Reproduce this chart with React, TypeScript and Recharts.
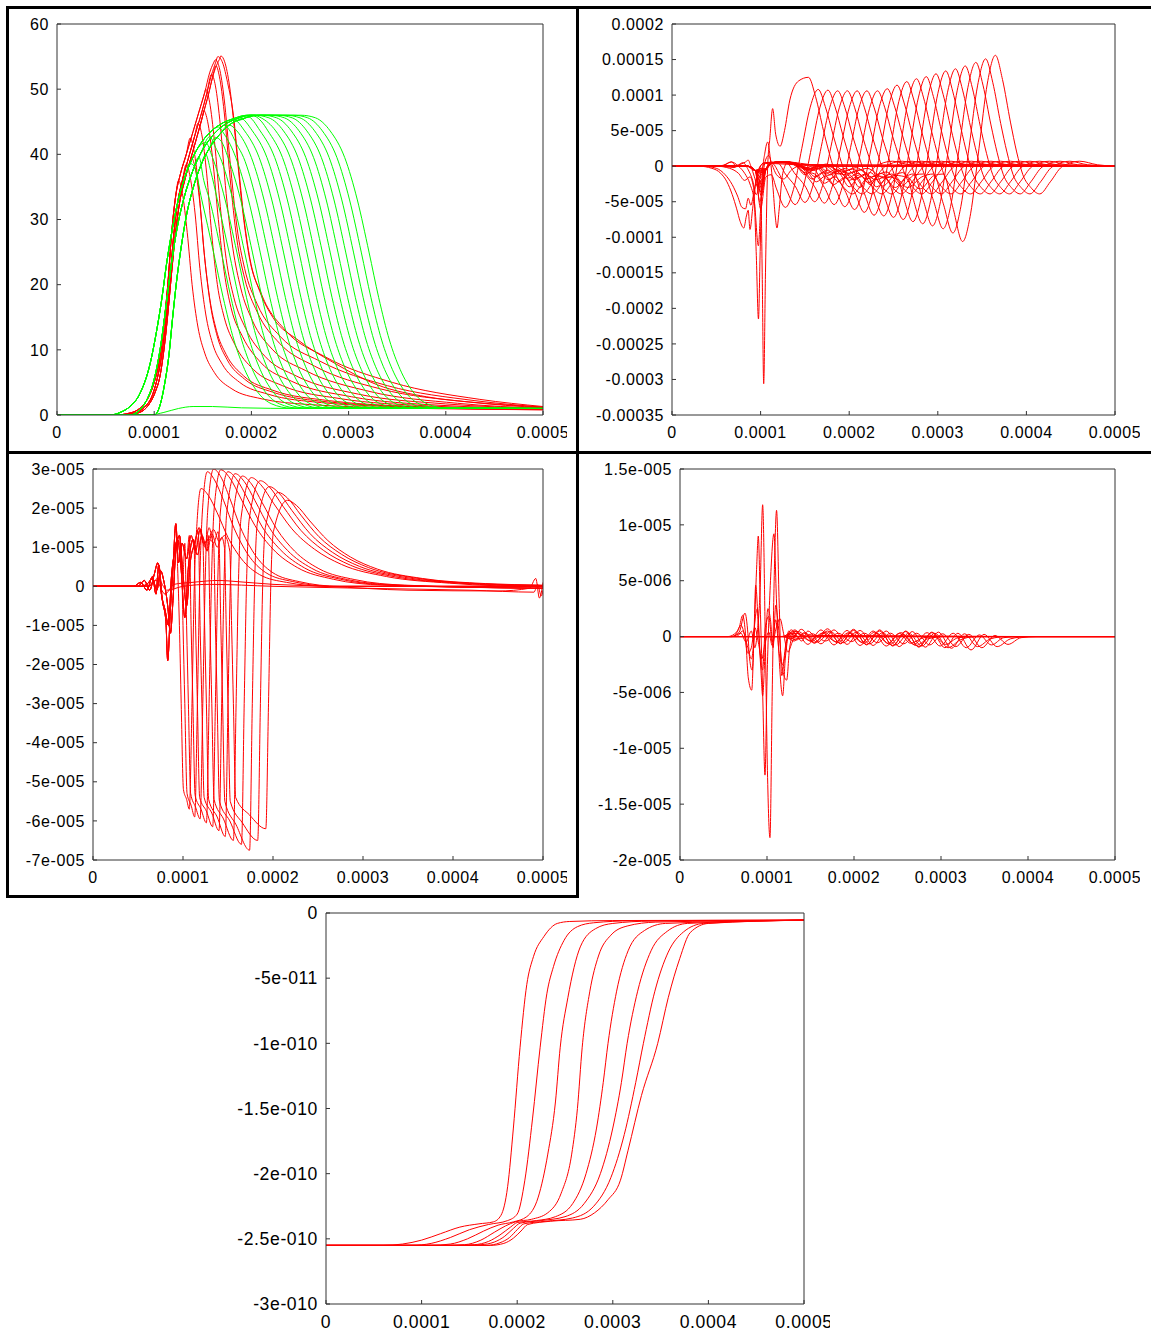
import React from "react";
import { LineChart, Line, XAxis, YAxis } from "recharts";

// ── Types ─────────────────────────────────────────────────────────────────────

type Pt = [number, number]; // [time in microseconds, value in panel units]
type Curve = { pts: Pt[]; color: string };

const RED = "#ff0000";
const GREEN = "#00ff00";

// ── Shared x axis (stored in µs, labelled in seconds) ─────────────────────────

const xTicks = [0, 100, 200, 300, 400, 500];
const xTickLabels = ["0", "0.0001", "0.0002", "0.0003", "0.0004", "0.0005"];

// ── Panel 1 (top left): red and green pulses ──────────────────────────────────

const p1Ticks = [0, 10, 20, 30, 40, 50, 60];
const p1Labels = ["0", "10", "20", "30", "40", "50", "60"];

// three observed variants of the red rising edge
const p1RedRises: Pt[][] = [
  [[0,0],[60,0],[75,0.3],[85,1],[95,3],[100,5],[106,9],[110,14],[114,20],[118,28],[122,33.5],[127,37],[133,40],[140,43.5],[147,47],[152,49.5],[157,52.5],[161,54],[164,54.8]],
  [[0,0],[65,0],[80,0.3],[90,1.2],[98,3],[103,5.5],[108,9.5],[112,14.5],[116,20.5],[120,27.5],[124,32.5],[129,36],[135,39.3],[142,43],[149,46.5],[154,49.3],[159,52.2],[163,54],[166,54.9]],
  [[0,0],[70,0],[85,0.4],[94,1.5],[101,3.5],[106,6],[110,10],[114,15.5],[118,22],[122,28],[126,32.5],[131,35.8],[137,39],[144,42.7],[150,46],[156,49.3],[160,51.8],[164,53.6],[168,54.9]],
];

// each red curve from its peak onwards
const p1RedFalls: Pt[][] = [
  [[125,36],[129,34],[134,28],[139,20],[145,13.5],[152,9.5],[162,6.5],[180,4],[210,2.5],[260,1.6],[350,1.1],[500,0.8]],
  [[133,38.5],[137,36.5],[142,31],[147,22.5],[153,15.5],[160,11],[170,7.8],[188,5],[217,3.2],[272,1.9],[362,1.2],[500,0.8]],
  [[138,39.5],[142,38],[147,32.5],[152,24],[158,16.8],[165,12],[175,8.5],[193,5.5],[222,3.5],[279,2],[369,1.25],[500,0.85]],
  [[137,42.5],[141,40.5],[146,34.5],[151,25.5],[157,18],[164,13],[174,9.3],[192,6],[222,3.8],[280,2.2],[370,1.3],[500,0.9]],
  [[145,44.8],[149,43],[154,37],[159,28],[165,20],[172,15],[183,10.8],[202,7],[232,4.5],[292,2.5],[382,1.4],[500,0.9]],
  [[151,46.7],[155,45],[160,39.5],[166,30],[172,22],[179,16.5],[191,12],[210,8],[241,5.2],[303,2.8],[393,1.5],[500,1]],
  [[153,50],[157,48],[162,42],[168,32],[174,24],[182,18],[194,13.3],[214,9],[246,6],[310,3.2],[400,1.7],[500,1]],
  [[159,52.3],[163,50.5],[168,44.5],[174,34],[181,25.5],[189,19.5],[201,14.5],[222,10],[256,6.8],[322,3.6],[412,1.8],[500,1]],
  [[163.5,53.6],[167,52],[172,46.5],[178,36.5],[185,27],[193,21],[206,15.8],[229,11],[265,7.5],[333,4],[423,2],[500,1.1]],
  [[163,54.5],[167,53.3],[172,48.5],[178,39],[185,29],[193,22.5],[206,17],[230,12],[270,8.3],[340,4.5],[430,2.2],[500,1.2]],
  [[165.5,55],[170.5,54],[175.5,51],[181.5,46],[186.5,38.5],[192.5,30],[198.5,24],[208.5,19],[222,15],[248,11.5],[285,8],[330,4.6],[380,2.8],[440,1.8],[500,1.2]],
  [[168.5,55.1],[172.5,54.2],[177.5,50.5],[183.5,42.5],[190.5,32],[197.5,24.5],[210.5,18.5],[235,13],[275,9],[345,5],[435,2.4],[500,1.3]],
];

// three observed variants of the green rising edge
const p1GreenRises: Pt[][] = [
  [[0,0],[55,0],[65,0.4],[75,1.3],[85,3.2],[96,8],[102,12.5],[108,18],[113,23.5],[118,28],[124,32.5],[130,35.8],[137,38.6],[145,41],[155,43],[168,44.6],[182,45.5],[196,46]],
  [[0,0],[75,0],[84,0.6],[92,2.2],[100,5.5],[106,10],[112,16.5],[118,23.5],[124,29],[131,33.5],[139,37.2],[148,40.2],[158,42.5],[170,44.3],[184,45.4],[200,46]],
  [[0,0],[100,0],[106,1.5],[111,5],[115,9],[119,15],[123,20.5],[128,26],[133,30.5],[140,34.8],[148,38.3],[157,41],[167,43],[180,44.8],[194,45.6],[210,46]],
];

// each green curve from where it leaves the rising edge
const p1GreenFalls: Pt[][] = [
  [[141,38.2],[149,33],[161,25],[171,18],[182,11.5],[193,7],[206,3.6],[221,1.7],[241,1.05],[500,1]],
  [[146,39.6],[151,36],[157,33],[169,25],[179,18],[190,11.5],[201,7],[214,3.6],[229,1.7],[249,1.05],[500,1]],
  [[153,40],[158,37.5],[165,33],[177,25],[187,18],[198,11.5],[209,7],[222,3.6],[237,1.7],[257,1.05],[500,1]],
  [[153,41.8],[160,39.5],[173,33],[185,25],[195,18],[206,11.5],[217,7],[230,3.6],[245,1.7],[265,1.05],[500,1]],
  [[157,42.7],[163,41.1],[168,39.5],[181,33],[193,25],[203,18],[214,11.5],[225,7],[238,3.6],[253,1.7],[273,1.05],[500,1]],
  [[163,42.6],[169,42],[176,39.5],[189,33],[201,25],[211,18],[222,11.5],[233,7],[246,3.6],[261,1.7],[281,1.05],[500,1]],
  [[166,44.2],[172,43.1],[184,39.5],[197,33],[209,25],[219,18],[230,11.5],[241,7],[254,3.6],[269,1.7],[289,1.05],[500,1]],
  [[172,44.5],[177,43.8],[185,41.5],[192,39.5],[205,33],[217,25],[227,18],[238,11.5],[249,7],[262,3.6],[277,1.7],[297,1.05],[500,1]],
  [[177,44.5],[185,43.6],[200,39.5],[213,33],[225,25],[235,18],[246,11.5],[257,7],[270,3.6],[285,1.7],[305,1.05],[500,1]],
  [[182,45.3],[193,43.6],[208,39.5],[221,33],[233,25],[243,18],[254,11.5],[265,7],[278,3.6],[293,1.7],[313,1.05],[500,1]],
  [[188,45.6],[201,43.6],[216,39.5],[229,33],[241,25],[251,18],[262,11.5],[273,7],[286,3.6],[301,1.7],[321,1.05],[500,1]],
  [[196,45.8],[209,43.6],[224,39.5],[237,33],[249,25],[259,18],[270,11.5],[281,7],[294,3.6],[309,1.7],[329,1.05],[500,1]],
  [[200,46],[210,45.1],[217,43.6],[232,39.5],[245,33],[257,25],[267,18],[278,11.5],[289,7],[302,3.6],[317,1.7],[337,1.05],[500,1]],
  [[202,46],[210,45.6],[225,43.6],[240,39.5],[253,33],[265,25],[275,18],[286,11.5],[297,7],[310,3.6],[325,1.7],[345,1.05],[500,1]],
  [[203,46],[218,45.6],[233,43.6],[248,39.5],[261,33],[273,25],[283,18],[294,11.5],[305,7],[318,3.6],[333,1.7],[353,1.05],[500,1]],
  [[211,46],[226,45.6],[241,43.6],[256,39.5],[269,33],[281,25],[291,18],[302,11.5],[313,7],[326,3.6],[341,1.7],[361,1.05],[500,1]],
  [[219,46],[234,45.6],[249,43.6],[264,39.5],[277,33],[289,25],[299,18],[310,11.5],[321,7],[334,3.6],[349,1.7],[369,1.05],[500,1]],
  [[227,46],[242,45.6],[257,43.6],[272,39.5],[285,33],[297,25],[307,18],[318,11.5],[329,7],[342,3.6],[357,1.7],[377,1.05],[500,1]],
  [[235,46],[250,45.6],[265,43.6],[280,39.5],[293,33],[305,25],[315,18],[326,11.5],[337,7],[350,3.6],[365,1.7],[385,1.05],[500,1]],
  [[243,46],[258,45.6],[273,43.6],[288,39.5],[301,33],[313,25],[323,18],[334,11.5],[345,7],[358,3.6],[373,1.7],[393,1.05],[500,1]],
  [[251,46],[266,45.6],[281,43.6],[296,39.5],[309,33],[321,25],[331,18],[342,11.5],[353,7],[366,3.6],[381,1.7],[401,1.05],[500,1]],
];

const p1GreenLow: Pt[] = [[0,0],[95,0],[110,0.4],[125,1],[140,1.3],[160,1.3],[190,1.1],[250,1],[500,1]];

// ── Panel 2 (top right), values in 1e-5 ───────────────────────────────────────

const p2Ticks = [20, 15, 10, 5, 0, -5, -10, -15, -20, -25, -30, -35];
const p2Labels = ["0.0002", "0.00015", "0.0001", "5e-005", "0", "-5e-005", "-0.0001", "-0.00015", "-0.0002", "-0.00025", "-0.0003", "-0.00035"];

const p2Early: Pt[][] = [
  [[0,0],[30,0],[45,-0.3],[55,-1],[62,-2.2],[68,-4],[73,-6],[77,-7.8],[81,-8.7],[84,-7],[86,-6.2],[88,-8.9],[91,-6],[95,-2],[99,-0.3],[104,0.5],[115,0.5],[140,0.3],[200,0],[500,0]],
  [[0,0],[35,0],[50,-0.3],[60,-1.2],[68,-2.6],[74,-4.2],[79,-5.8],[83,-6],[86,-4.5],[89,-5.5],[92,-4],[96,-1.2],[102,0.3],[110,0.4],[140,0.2],[500,0]],
  [[0,0],[50,0],[65,-0.3],[75,-1],[82,-2],[88,-1.5],[92,-3],[95,-12],[97.6,-21.5],[99.5,-12],[101.5,-2],[105,2],[108,3.4],[111,1],[114,-3],[116.5,-7],[118.5,-8.7],[121,-6],[125,-1],[131,0.6],[145,0.4],[175,0],[500,0]],
  [[0,0],[55,0],[70,-0.2],[80,0.5],[86,-0.5],[91,-2],[95,-4],[98,-3],[100,-2],[101.8,-15],[103.5,-30.6],[105.5,-15],[108,0],[110.5,4],[113.6,8.1],[117,4.5],[122,2.8],[127,5],[133,9.3],[143,12],[154,12.5],[162,9.8],[171,5],[178,1.6],[185,-1.2],[194,-3],[204,-3.9],[216,-2.2],[229,-0.1],[249,0.7],[269,0.2],[500,0]],
  [[0,0],[55,0],[67,0.6],[75,0],[82,-1],[88,-2.5],[93,-5],[97.5,-11.2],[100,-6],[103,-1],[106,1],[109,1.5],[113,0.2],[118,-1.2],[126,-1.8],[135,-0.5],[150,0.2],[500,0]],
  [[0,0],[50,0],[60,0.2],[67,0.6],[72,0.1],[78,0.3],[83,0.6],[86,0.85],[89,0],[93,-1.5],[97,-3],[101,-0.5],[106,0.5],[120,0.6],[140,0.3],[160,0],[500,0]],
];

const p2Braid: Pt[][] = [
  [[0,0],[85,0],[94,-0.6],[100,-6],[106,-1.5],[112,-1.2],[118,-3.2],[128,-5.8],[137,-3.3],[146.5,2.5],[156,8.3],[165,10.8],[173,8.4],[182,4.3],[189,1.4],[196,-1.2],[205,-3],[215,-3.9],[227,-2.2],[240,-0.1],[260,0.7],[280,0.2],[500,0]],
  [[0,0],[85,0],[94,-0.6],[99,-5],[106,-0.6],[113,0.4],[120,-0.8],[128,-3],[139,-5.4],[148,-3],[157.5,2.65],[167,8.3],[176,10.7],[184,8.35],[193,4.3],[200,1.4],[207,-1.2],[216,-3],[226,-3.9],[238,-2.2],[251,-0.1],[271,0.7],[291,0.2],[500,0]],
  [[0,0],[85,0],[94,-0.6],[101,-4.2],[106,-0.5],[113,0.5],[120,0.4],[128,-1.1],[139,-2.8],[150,-5.1],[159,-2.75],[168.5,2.75],[178,8.25],[187,10.6],[195,8.3],[204,4.2],[211,1.4],[218,-1.2],[227,-3],[237,-3.9],[249,-2.2],[262,-0.1],[282,0.7],[302,0.2],[500,0]],
  [[0,0],[85,0],[94,-0.6],[100,-3.6],[106,-0.4],[113,0.5],[128,0.6],[139,-1.1],[150,-2.75],[161,-5],[170,-2.7],[179.5,2.8],[189,8.3],[198,10.6],[206,8.3],[215,4.2],[222,1.4],[229,-1.2],[238,-3],[248,-3.9],[260,-2.2],[273,-0.1],[293,0.7],[313,0.2],[500,0]],
  [[0,0],[85,0],[94,-0.6],[99,-3],[106,-0.4],[113,0.5],[128,0.6],[140,0],[150,-1.1],[161,-2.9],[172,-5.2],[181,-2.8],[190.5,2.7],[200,8.2],[209,10.6],[217,8.3],[226,4.2],[233,1.4],[240,-1.2],[249,-3],[259,-3.9],[271,-2.2],[284,-0.1],[304,0.7],[324,0.2],[500,0]],
  [[0,0],[85,0],[94,-0.6],[101,-2.6],[106,-0.4],[113,0.5],[128,0.6],[145,0.2],[153,-0.8],[161,-1.1],[172,-3],[183,-5.4],[192,-3],[201.5,2.6],[211,8.2],[220,10.6],[228,8.3],[237,4.2],[244,1.4],[251,-1.2],[260,-3],[270,-3.9],[282,-2.2],[295,-0.1],[315,0.7],[335,0.2],[500,0]],
  [[0,0],[85,0],[94,-0.6],[100,-2.2],[106,-0.4],[113,0.5],[128,0.6],[140,0.3],[152,-0.6],[163,-2.2],[173,-1.4],[184,-3.1],[195,-5.7],[204,-3.25],[213.5,2.45],[223,8.15],[232,10.6],[240,8.3],[249,4.2],[256,1.4],[263,-1.2],[272,-3],[282,-3.9],[294,-2.2],[307,-0.1],[327,0.7],[347,0.2],[500,0]],
  [[0,0],[85,0],[94,-0.6],[102,-1.9],[106,-0.4],[113,0.5],[128,0.6],[138,0.4],[150,-1.2],[160,-0.5],[172,-2.4],[184,-1.5],[195,-3.4],[206,-6.1],[215,-3.55],[224.5,2.4],[234,8.35],[243,10.9],[251,8.5],[260,4.4],[267,1.4],[274,-1.2],[283,-3],[293,-3.9],[305,-2.2],[318,-0.1],[338,0.7],[358,0.2],[500,0]],
  [[0,0],[85,0],[94,-0.6],[100,-1.6],[106,-0.4],[113,0.5],[128,0.6],[136,0.3],[148,-0.4],[158,-1.8],[170,-0.9],[182,-2.6],[195,-1.6],[206,-3.6],[217,-6.5],[226,-3.8],[235.5,2.45],[245,8.7],[254,11.4],[262,8.9],[271,4.6],[278,1.5],[285,-1.2],[294,-3],[304,-3.9],[316,-2.2],[329,-0.1],[349,0.7],[369,0.2],[500,0]],
  [[0,0],[85,0],[94,-0.6],[99,-1.4],[106,-0.4],[113,0.5],[128,0.6],[140,0.2],[152,-1],[164,-0.3],[176,-1.9],[188,-1],[200,-2.9],[210,-1.7],[217,-3.8],[228,-6.9],[237,-4.1],[246.5,2.5],[256,9.1],[265,11.9],[273,9.3],[282,4.8],[289,1.55],[296,-1.2],[305,-3],[315,-3.9],[327,-2.2],[340,-0.1],[360,0.7],[380,0.2],[500,0]],
  [[0,0],[85,0],[94,-0.6],[101,-1.2],[106,-0.4],[113,0.5],[128,0.6],[138,0.5],[150,-0.2],[162,-1.5],[175,-0.6],[188,-2.2],[200,-1.2],[212,-3],[222,-1.6],[228,-3.85],[239,-7],[248,-4.1],[257.5,2.65],[267,9.4],[276,12.3],[284,9.6],[293,4.9],[300,1.6],[307,-1.2],[316,-3],[326,-3.9],[338,-2.2],[351,-0.1],[371,0.7],[391,0.2],[500,0]],
  [[0,0],[85,0],[94,-0.6],[100,-1],[106,-0.4],[113,0.5],[128,0.6],[140,0.3],[152,-0.5],[164,0.1],[176,-1.3],[188,-0.6],[200,-2],[212,-1.2],[224,-2.6],[232,-1.5],[239,-4],[250,-7.2],[259,-4.2],[268.5,2.7],[278,9.6],[287,12.6],[295,9.8],[304,5],[311,1.6],[318,-1.2],[327,-3],[337,-3.9],[349,-2.2],[362,-0.1],[382,0.7],[402,0.2],[500,0]],
  [[0,0],[85,0],[94,-0.6],[102,-0.9],[106,-0.4],[113,0.5],[128,0.6],[140,0.3],[150,-0.3],[162,0.2],[174,-1],[186,-0.4],[198,-1.7],[210,-1],[222,-2.3],[234,-1.4],[244,-2],[250,-4.1],[261,-7.5],[270,-4.4],[279.5,2.75],[289,9.9],[298,13],[306,10.1],[315,5.2],[322,1.7],[329,-1.2],[338,-3],[348,-3.9],[360,-2.2],[373,-0.1],[393,0.7],[413,0.2],[500,0]],
  [[0,0],[85,0],[94,-0.6],[100,-0.8],[106,-0.4],[113,0.5],[128,0.6],[140,0.3],[153,-0.6],[166,0],[179,-1.2],[192,-0.5],[205,-1.9],[218,-1.1],[231,-2.9],[244,-1.5],[255,-1.9],[261,-4.3],[272,-7.8],[281,-4.6],[290.5,2.8],[300,10.2],[309,13.4],[317,10.45],[326,5.4],[333,1.7],[340,-1.2],[349,-3],[359,-3.9],[371,-2.2],[384,-0.1],[404,0.7],[424,0.2],[500,0]],
  [[0,0],[85,0],[94,-0.6],[101,-0.7],[106,-0.4],[113,0.5],[128,0.6],[140,0.3],[154,-0.4],[168,0.2],[182,-0.9],[196,-0.3],[210,-1.6],[224,-0.9],[238,-2.8],[252,-1.3],[266,-1.6],[272,-4.5],[283,-8.1],[292,-4.8],[301.5,2.8],[311,10.4],[320,13.7],[328,10.7],[337,5.5],[344,1.8],[351,-1.2],[360,-3],[370,-3.9],[382,-2.2],[395,-0.1],[415,0.7],[435,0.2],[500,0]],
  [[0,0],[85,0],[94,-0.6],[100,-0.6],[106,-0.4],[113,0.5],[128,0.6],[140,0.3],[156,-0.5],[172,0.1],[188,-1.1],[204,-0.4],[220,-1.8],[236,-1],[252,-3],[265,-1.4],[272,-1.1],[283,-4.6],[294,-8.4],[303,-5],[312.5,2.85],[322,10.7],[331,14.1],[339,11],[348,5.6],[355,1.8],[362,-1.2],[371,-3],[381,-3.9],[393,-2.2],[406,-0.1],[426,0.7],[446,0.2],[500,0]],
  [[0,0],[85,0],[94,-0.6],[102,-0.5],[106,-0.4],[113,0.5],[128,0.6],[140,0.3],[157,-0.3],[174,0.3],[191,-0.8],[208,-0.2],[225,-1.5],[242,-0.8],[259,-2.8],[274,-1.2],[284,-1.1],[295,-4.8],[306,-8.8],[315,-5.3],[324.5,2.9],[334,11.1],[343,14.6],[351,11.4],[360,5.8],[367,1.9],[374,-1.2],[383,-3],[393,-3.9],[405,-2.2],[418,-0.1],[438,0.7],[458,0.2],[500,0]],
  [[0,0],[85,0],[94,-0.6],[100,-0.4],[106,-0.4],[113,0.5],[128,0.6],[140,0.3],[158,-0.6],[176,0],[194,-1.2],[212,-0.5],[230,-1.9],[248,-1.1],[266,-3],[282,-1.5],[295,-1.1],[306,-5.2],[317,-9.4],[326,-5.7],[335.5,2.85],[345,11.4],[354,15.1],[362,11.8],[371,6],[378,2],[385,-1.2],[394,-3],[404,-3.9],[416,-2.2],[429,-0.1],[449,0.7],[469,0.2],[500,0]],
  [[0,0],[85,0],[94,-0.6],[101,-0.3],[106,-0.4],[113,0.5],[128,0.6],[140,0.3],[160,-0.4],[180,0.2],[200,-1],[220,-0.3],[240,-1.7],[260,-0.9],[280,-3.2],[296,-1.3],[306,-1.1],[317,-5.8],[328,-10.6],[337,-6.7],[346.5,2.5],[356,11.7],[365,15.6],[373,12.2],[382,6.2],[389,2],[396,-1.2],[405,-3],[415,-3.9],[427,-2.2],[440,-0.1],[460,0.7],[480,0.2],[500,0]],
];

// ── Panel 3 (middle left), values in 1e-5 ─────────────────────────────────────

const p3Ticks = [3, 2, 1, 0, -1, -2, -3, -4, -5, -6, -7];
const p3Labels = ["3e-005", "2e-005", "1e-005", "0", "-1e-005", "-2e-005", "-3e-005", "-4e-005", "-5e-005", "-6e-005", "-7e-005"];

// three observed variants of the wiggles before the deep dip
const p3Pre: Pt[][] = [
  [[0,0],[45,0],[53,0.1],[60,-0.1],[66,0.25],[70,-0.2],[73,0.55],[77,-0.35],[81,-0.9],[83,-1.9],[86,-0.6],[89,0.5],[92,1.6],[95,0.6],[99,1.1],[104,0.7],[109,1.3],[114,0.9],[119,1.45],[124,1],[129,1.5],[134,1.1],[139,1.4],[144,1.05],[149,1.3],[154,0.95]],
  [[0,0],[50,0],[57,0.15],[63,-0.1],[68,0.3],[72,0.6],[76,-0.2],[80,-0.6],[84,-1],[87,0.2],[90,0.8],[94,1.2],[98,0.4],[102,-0.8],[106,0.5],[111,1.2],[116,0.8],[121,1.3],[127,0.9],[132,1.35],[138,1],[143,1.25],[148,0.9],[153,1.1]],
  [[0,0],[52,0],[60,0.05],[66,0.2],[71,-0.1],[75,0.4],[79,0.1],[83,-0.5],[86,-1.2],[89,-0.3],[92,0.9],[96,1.3],[100,0.3],[104,-0.5],[108,0.6],[113,1.1],[118,1.5],[123,1.1],[128,1.2],[134,1.45],[140,1.15],[146,1.3],[152,1]],
];

// each curve from the start of its dip onwards
const p3Dips: Pt[][] = [
  [[94,0.5],[96,-1],[98,-3],[100.5,-5.2],[104,-5.45],[107,-5.7],[110,-3],[112.5,0],[115.5,1.6],[120,2.5],[128,2.33],[138,1.88],[150,1.25],[165,0.7],[185,0.3],[215,0.1],[260,0],[500,0]],
  [[98,0.9],[100,-1],[102,-3],[104.5,-5.3],[109,-5.6],[113,-5.9],[116,-3],[118.5,0],[121.5,1.9],[127,2.93],[135,2.72],[145,2.2],[157,1.47],[172,0.82],[192,0.35],[222,0.12],[267,0],[500,0]],
  [[102,1.1],[104,-1],[106,-3],[108.5,-5.3],[114,-5.65],[119,-5.95],[122,-3],[124.5,0],[127.5,1.95],[134,3],[142,2.8],[152,2.25],[164,1.5],[179,0.84],[199,0.36],[229,0.12],[274,0],[500,0]],
  [[107,1.3],[109,-1],[111,-3],[113.5,-5.35],[120,-5.7],[126,-6.05],[129,-3],[131.5,0],[134.5,1.95],[142,2.98],[152,2.77],[164,2.26],[180,1.55],[200,0.95],[227,0.48],[267,0.18],[322,0.03],[500,-0.05]],
  [[112,1.2],[114,-1],[116,-3],[118.5,-5.4],[126,-5.75],[133,-6.15],[136,-3],[138.5,0],[141.5,1.9],[150,2.93],[160,2.72],[172,2.23],[188,1.52],[208,0.94],[235,0.47],[275,0.18],[330,0.03],[500,-0.05]],
  [[117,1.4],[119,-1],[121,-3],[123.5,-5.4],[132,-5.8],[140,-6.25],[143,-3],[145.5,0],[148.5,1.85],[158,2.88],[168,2.68],[180,2.19],[196,1.5],[216,0.92],[243,0.46],[283,0.17],[338,0.03],[500,-0.05]],
  [[122,1.2],[124,-1],[126,-3],[128.5,-5.45],[138,-5.9],[147,-6.4],[150,-3],[152.5,0],[155.5,1.8],[166,2.82],[176,2.62],[188,2.14],[204,1.47],[224,0.9],[251,0.45],[291,0.17],[346,0.03],[500,-0.05]],
  [[128,1.3],[130,-1],[132,-3],[134.5,-5.45],[145,-5.95],[156,-6.5],[159,-3],[161.5,0],[164.5,1.75],[176,2.78],[186,2.61],[201,2.11],[221,1.47],[246,0.95],[276,0.56],[326,0.25],[396,0.08],[500,-0.02]],
  [[134,1.1],[136,-1],[138,-3],[140.5,-5.5],[152,-6],[165,-6.6],[168,-3],[170.5,0],[173.5,1.7],[186,2.7],[196,2.54],[211,2.05],[231,1.43],[256,0.92],[286,0.54],[336,0.24],[406,0.08],[500,0]],
  [[140,1.2],[142,-1],[144,-3],[146.5,-5.5],[159,-6.1],[174,-6.75],[177,-3],[179.5,0],[182.5,1.6],[196,2.55],[206,2.4],[221,1.94],[241,1.35],[266,0.87],[296,0.51],[346,0.23],[416,0.08],[500,0.02]],
  [[146,1],[148,-1],[150,-3],[152.5,-5.5],[166,-6.05],[183,-6.5],[186,-3],[188.5,0],[191.5,1.5],[206,2.4],[216,2.26],[231,1.82],[251,1.27],[276,0.82],[306,0.48],[356,0.22],[426,0.07],[500,0.02]],
  [[152,0.9],[154,-1],[156,-3],[158.5,-5.4],[174,-5.85],[192,-6.2],[195,-3],[197.5,0],[200.5,1.4],[216,2.2],[226,2.07],[241,1.67],[261,1.17],[286,0.75],[316,0.44],[366,0.2],[436,0.07],[500,0.03]],
];

const p3Flat: Pt[][] = [
  [[0,0],[60,0],[70,0.15],[80,-0.2],[90,0.05],[110,0.1],[140,0.15],[160,0.12],[200,0.05],[260,0],[350,-0.1],[450,-0.12],[485,-0.05],[492,0.2],[496,-0.3],[500,0.1]],
  [[0,0],[62,0],[72,0.2],[82,-0.1],[100,0],[130,0.05],[200,0],[300,-0.05],[420,-0.1],[490,-0.15],[494,0.05],[498,-0.25],[500,-0.1]],
];

// ── Panel 4 (middle right), values in 1e-6 ────────────────────────────────────

const p4Ticks = [15, 10, 5, 0, -5, -10, -15, -20];
const p4Labels = ["1.5e-005", "1e-005", "5e-006", "0", "-5e-006", "-1e-005", "-1.5e-005", "-2e-005"];

const p4Spikes: Pt[][] = [
  [[0,0],[60,0],[70,0.3],[76,-0.5],[82,0.5],[86,-1],[89,0.5],[92,4],[95,11.8],[98,0],[100.5,-12],[103.4,-18],[106,-5],[108.5,6],[111,11.3],[114,3],[117,-3.5],[120,-2],[125,0.5],[132,0],[500,0]],
  [[0,0],[65,0],[72,0.5],[78,-1],[82,-2],[85,0],[88,6],[90,9],[92.5,2],[95,-5],[97.7,-12.4],[100,-4],[104,5],[108,9.2],[111,3],[114,-2],[118,-5.3],[121,-2],[126,0.3],[135,0],[500,0]],
  [[0,0],[60,0],[68,0.8],[72,1.9],[75,0.5],[78.5,-3.7],[82.4,-4.8],[85,0],[87,4.6],[90,1],[93,-3],[95,-5.3],[98,-1],[101,2.5],[104,1.5],[107,-1],[110,2.8],[113,1],[118,-3],[122.6,-3.9],[126,-1],[132,0.5],[140,0],[500,0]],
  [[0,0],[60,0],[68,0.4],[74.7,2.1],[78,0.3],[80,-2],[83,-3],[86,1.3],[89,2.5],[92,-1.5],[95,-3],[98,0.8],[102,1.8],[106,-0.5],[110,1.5],[114,-1.5],[118,-2.5],[122,-0.5],[128,0.6],[136,0],[500,0]],
  [[0,0],[55,0],[65,0.4],[70,1],[74,0.2],[78,-1.5],[82,-1],[86,0.8],[90,-0.5],[94,-2],[98,-0.5],[102,0.4],[106,-0.8],[110,0.6],[115,1.6],[119,0.3],[124,-1.4],[129,-0.5],[135,0.3],[145,0],[500,0]],
];

const p4Lattice: Pt[][] = [
  [[0,0],[115,0],[125,0.2],[132,0.6],[147,-0.7],[162,0.6],[177,-0.75],[192,0.55],[207,-0.8],[222,0.5],[237,-0.85],[252,0.3],[265,-0.6],[280,-0.1],[300,0],[500,0]],
  [[0,0],[118,0],[128,-0.2],[139.5,0.65],[154.5,-0.6],[169.5,0.7],[184.5,-0.65],[199.5,0.65],[214.5,-0.75],[229.5,0.6],[244.5,-0.85],[259.5,0.5],[274.5,-0.95],[289.5,0.35],[305,-0.7],[320,-0.1],[340,0],[500,0]],
  [[0,0],[120,0],[130,0.3],[140,-0.4],[147,0.5],[162,-0.65],[177,0.6],[192,-0.7],[207,0.55],[222,-0.8],[237,0.5],[252,-0.9],[267,0.45],[282,-0.95],[297,0.4],[312,-1.05],[327,0.25],[342,-0.9],[357,-0.2],[375,0],[500,0]],
  [[0,0],[122,0],[134,-0.3],[144,0.3],[154.5,-0.55],[169.5,0.5],[184.5,-0.6],[199.5,0.55],[214.5,-0.7],[229.5,0.5],[244.5,-0.8],[259.5,0.45],[274.5,-0.9],[289.5,0.4],[304.5,-1],[319.5,0.3],[334.5,-1.2],[349.5,0.2],[364.5,-0.9],[380,-0.2],[400,0],[500,0]],
  [[0,0],[118,0],[128,0.4],[136,0.45],[151,-0.45],[166,0.4],[181,-0.55],[196,0.35],[211,-0.6],[226,0.3],[241,-0.7],[256,0.2],[271,-0.8],[285,-0.2],[305,0],[500,0]],
  [[0,0],[120,0],[131,-0.4],[143,0.35],[158,-0.5],[173,0.45],[188,-0.55],[203,0.4],[218,-0.65],[233,0.35],[248,-0.75],[263,0.3],[278,-0.85],[293,0.3],[308,-1],[322,-0.3],[340,0],[500,0]],
  [[0,0],[122,0],[134,0.3],[149,-0.35],[164,0.3],[179,-0.45],[194,0.35],[209,-0.5],[224,0.4],[239,-0.6],[254,0.35],[269,-0.7],[284,0.35],[299,-0.85],[314,0.3],[329,-1],[344,0.15],[358,-0.75],[372,-0.1],[390,0],[500,0]],
  [[0,0],[125,0],[138,-0.2],[152,0.25],[167,-0.4],[182,0.3],[197,-0.45],[212,0.3],[227,-0.55],[242,0.3],[257,-0.65],[272,0.3],[287,-0.75],[302,0.25],[317,-0.9],[332,0.2],[347,-1],[362,0.1],[377,-0.7],[392,-0.1],[410,0],[500,0]],
];

const p4Flat: Pt[][] = [
  [[0,0],[500,0]],
  [[0,0],[130,0],[160,0.1],[300,0.05],[400,0],[500,0]],
];

// ── Panel 5 (bottom), values in 1e-11 ─────────────────────────────────────────

const p5Ticks = [0, -5, -10, -15, -20, -25, -30];
const p5Labels = ["0", "-5e-011", "-1e-010", "-1.5e-010", "-2e-010", "-2.5e-010", "-3e-010"];

const p5Curves: Pt[][] = [
  [[0,-25.5],[60,-25.5],[80,-25.4],[100,-25.1],[120,-24.6],[140,-24.1],[160,-23.85],[175,-23.7],[183,-23.2],[190,-21],[196,-16.5],[203,-10.3],[210,-5.5],[217,-3.35],[228,-1.8],[242,-0.8],[255,-0.65],[300,-0.58],[500,-0.55]],
  [[0,-25.5],[90,-25.5],[110,-25.35],[130,-24.9],[150,-24.3],[170,-23.9],[190,-23.6],[200,-23.1],[208,-20.5],[216,-15.8],[224,-10.3],[231,-6.2],[238,-4.1],[249,-2.1],[263,-1.05],[280,-0.75],[320,-0.6],[500,-0.55]],
  [[0,-25.5],[110,-25.5],[130,-25.4],[148,-25],[165,-24.4],[180,-23.95],[196,-23.7],[210,-23.3],[222,-21.8],[232,-18.5],[240,-14.5],[245,-10.3],[253,-6.5],[266,-2.6],[282,-1.2],[300,-0.8],[340,-0.62],[500,-0.55]],
  [[0,-25.5],[125,-25.5],[145,-25.45],[162,-25.1],[176,-24.5],[188,-24],[198,-23.7],[215,-23.5],[232,-23],[246,-21.5],[257,-18.5],[263,-15],[268,-10.3],[276,-6],[285,-3.3],[298,-1.7],[315,-1],[345,-0.7],[500,-0.55]],
  [[0,-25.5],[135,-25.5],[155,-25.45],[170,-25.2],[182,-24.7],[193,-24.1],[200,-23.75],[220,-23.6],[240,-23.3],[258,-22.3],[272,-20],[283,-16.5],[290,-13],[295,-10],[304,-6],[316,-2.9],[333,-1.35],[355,-0.8],[500,-0.55]],
  [[0,-25.5],[145,-25.5],[162,-25.45],[176,-25.25],[187,-24.8],[196,-24.2],[203,-23.8],[225,-23.6],[250,-23.3],[270,-22.3],[287,-20],[300,-16.5],[309,-13],[315,-10],[326,-6],[340,-2.9],[357,-1.4],[378,-0.8],[500,-0.55]],
  [[0,-25.5],[150,-25.5],[168,-25.5],[182,-25.3],[192,-24.9],[200,-24.3],[207,-23.85],[230,-23.65],[258,-23.4],[280,-22.5],[298,-20.3],[312,-17],[324,-13],[332,-10],[344,-6],[358,-3],[374,-1.45],[395,-0.8],[500,-0.55]],
  [[0,-25.5],[155,-25.5],[172,-25.5],[186,-25.35],[196,-24.95],[204,-24.4],[211,-23.9],[235,-23.65],[266,-23.5],[281,-23],[295,-22],[308,-20.5],[316,-18.2],[330,-14],[347,-10],[358,-6.5],[370,-3.5],[381,-1.5],[400,-0.8],[500,-0.55]],
];

// ── Curve assembly ────────────────────────────────────────────────────────────

// a curve is the shared leading part up to where its own points begin
const join = (lead: Pt[], own: Pt[]): Pt[] => [...lead.filter(p => p[0] < own[0][0]), ...own];

const panel1: Curve[] = [
  ...p1RedFalls.map((f, i) => ({ pts: join(p1RedRises[i % 3], f), color: RED })),
  ...p1GreenFalls.map((f, i) => ({ pts: join(p1GreenRises[i % 3], f), color: GREEN })),
  { pts: p1GreenLow, color: GREEN },
];
const panel2: Curve[] = [...p2Braid, ...p2Early].map(pts => ({ pts, color: RED }));
const panel3: Curve[] = [
  ...p3Flat.map(pts => ({ pts, color: RED })),
  ...p3Dips.map((d, i) => ({ pts: join(p3Pre[i % 3], d), color: RED })),
];
const panel4: Curve[] = [...p4Flat, ...p4Lattice, ...p4Spikes].map(pts => ({ pts, color: RED }));
const panel5: Curve[] = p5Curves.map(pts => ({ pts, color: RED }));

// ── Panel component ───────────────────────────────────────────────────────────

const FONT = "'Liberation Sans', Arial, Helvetica, sans-serif";
const AXIS = "#333333";

type PanelProps = {
  left: number; top: number; width: number; height: number;
  plotLeft: number; plotTop: number; plotRight: number; plotBottom: number;
  yDomain: [number, number]; yTicks: number[]; yLabels: string[];
  curves: Curve[]; fontSize?: number;
};

function Panel({ left, top, width, height, plotLeft, plotTop, plotRight, plotBottom, yDomain, yTicks, yLabels, curves, fontSize = 16 }: PanelProps) {
  const fmtX = (v: number) => xTickLabels[xTicks.indexOf(v)] ?? "";
  const fmtY = (v: number) => yLabels[yTicks.indexOf(v)] ?? "";
  const tickStyle = { fill: "#000", fontSize, fontFamily: FONT, letterSpacing: 0.6 };
  // invisible series spanning the domain, so the mirrored top/right axes (the frame) get drawn
  const frame = [{ x: 0, y: yDomain[0] }, { x: 500, y: yDomain[1] }];
  return (
    <div style={{ position: "absolute", left, top, width, height, overflow: "hidden" }}>
      <LineChart width={width} height={height}
        margin={{ top: plotTop - 1, right: width - plotRight - 1, bottom: 0, left: 0 }}>
        <XAxis xAxisId="x" type="number" dataKey="x" domain={[0, 500]} ticks={xTicks} tickFormatter={fmtX}
          interval={0} height={height - plotBottom} tickSize={-4} tickMargin={16} tick={tickStyle}
          stroke={AXIS} allowDataOverflow />
        <XAxis xAxisId="xt" orientation="top" type="number" dataKey="x" domain={[0, 500]} ticks={xTicks}
          interval={0} height={1} tickSize={-4} tick={false} stroke={AXIS} allowDataOverflow />
        <YAxis yAxisId="y" type="number" domain={yDomain} ticks={yTicks} tickFormatter={fmtY}
          interval={0} width={plotLeft} tickSize={-4} tickMargin={12} tick={tickStyle}
          stroke={AXIS} allowDataOverflow />
        <YAxis yAxisId="yr" orientation="right" type="number" domain={yDomain} ticks={yTicks}
          interval={0} width={1} tickSize={-4} tick={false} stroke={AXIS} allowDataOverflow />
        <Line xAxisId="xt" yAxisId="yr" data={frame} dataKey="y" stroke="none" dot={false}
          activeDot={false} isAnimationActive={false} />
        {curves.map((c, i) => (
          <Line key={i} xAxisId="x" yAxisId="y" data={c.pts.map(([x, y]) => ({ x, y }))} dataKey="y"
            type="monotone" stroke={c.color} strokeWidth={1} dot={false} activeDot={false}
            isAnimationActive={false} />
        ))}
      </LineChart>
    </div>
  );
}

const Rule = ({ x, y, w, h }: { x: number; y: number; w: number; h: number }) => (
  <div style={{ position: "absolute", left: x, top: y, width: w, height: h, background: "#000" }} />
);

export default function App() {
  return (
    <div style={{ position: "absolute", left: 0, top: 0, width: 1151, height: 1333, background: "#fff", overflow: "hidden" }}>
      <Panel left={9} top={9} width={558} height={440} plotLeft={48} plotTop={15} plotRight={534} plotBottom={406}
        yDomain={[0, 60]} yTicks={p1Ticks} yLabels={p1Labels} curves={panel1} />
      <Panel left={580} top={9} width={560} height={440} plotLeft={92} plotTop={15} plotRight={535} plotBottom={406}
        yDomain={[-35, 20]} yTicks={p2Ticks} yLabels={p2Labels} curves={panel2} />
      <Panel left={9} top={454} width={558} height={440} plotLeft={84} plotTop={15} plotRight={534} plotBottom={406}
        yDomain={[-7, 3]} yTicks={p3Ticks} yLabels={p3Labels} curves={panel3} />
      <Panel left={580} top={454} width={560} height={440} plotLeft={100} plotTop={15} plotRight={535} plotBottom={406}
        yDomain={[-20, 15]} yTicks={p4Ticks} yLabels={p4Labels} curves={panel4} />
      <Panel left={220} top={898} width={610} height={435} plotLeft={106} plotTop={15} plotRight={584} plotBottom={406}
        yDomain={[-30, 0]} yTicks={p5Ticks} yLabels={p5Labels} curves={panel5} fontSize={17.6} />

      {/* table borders around the four upper panels */}
      <Rule x={6} y={6} w={1145} h={3} />
      <Rule x={6} y={451} w={1145} h={3} />
      <Rule x={6} y={895} w={573} h={3} />
      <Rule x={6} y={6} w={3} h={892} />
      <Rule x={576} y={6} w={3} h={892} />
    </div>
  );
}
